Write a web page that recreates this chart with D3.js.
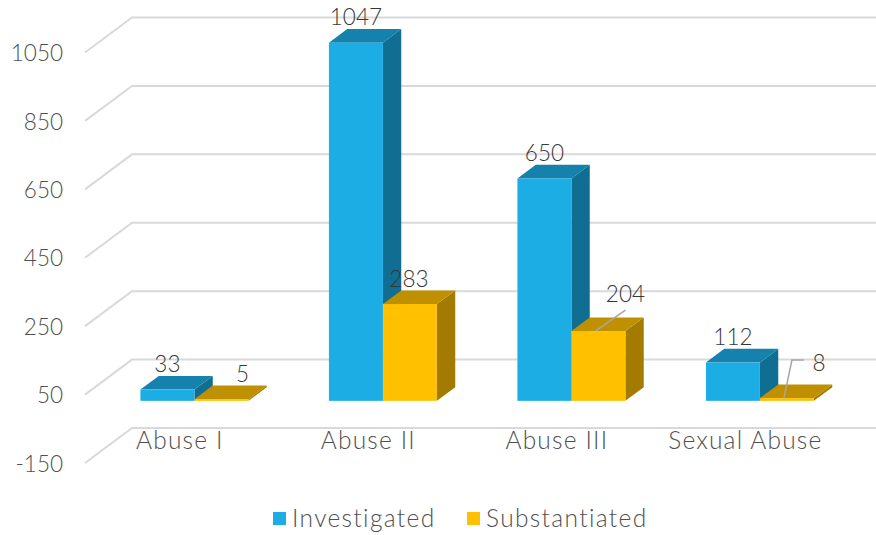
<!DOCTYPE html>
<meta charset="utf-8">
<script src="https://d3js.org/d3.v7.min.js"></script>
<style>
  html, body { margin: 0; background: #fff; }
  svg { display: block; }
  text { font-family: Lato, sans-serif; font-weight: 300; }
  .tick text { fill: #505050; font-size: 22.5px; }
  .xaxis .tick text { font-size: 24.5px; letter-spacing: 1.2px; }
  .label { fill: #383838; font-size: 22.5px; text-anchor: middle; dominant-baseline: central; }
  .legend { fill: #505050; font-size: 24.5px; letter-spacing: 1.35px; dominant-baseline: central; }
  .grid { stroke: #d9d9d9; stroke-width: 2px; fill: none; }
  .leader { stroke: #a6a6a6; stroke-width: 1.5px; fill: none; }
</style>
<body>
<div id="chart"></div>
<script>
  // Data
  const categories = ["Abuse I", "Abuse II", "Abuse III", "Sexual Abuse"];
  const seriesNames = ["Investigated", "Substantiated"];
  const investigated = [33, 1047, 650, 112];
  const substantiated = [5, 283, 204, 8];
  const yTicks = [-150, 50, 250, 450, 650, 850, 1050];

  const width = 876, height = 535;

  // 3d box: wall depth and where the bars sit inside it
  const wallDx = 47, wallDy = -35;
  const barFront = 0.31, barDepth = 0.39;

  const svg = d3.select("#chart").append("svg")
    .attr("width", width).attr("height", height);

  const y = d3.scaleLinear().domain([-150, 1050]).range([463, 52.5]);
  const x0 = d3.scaleBand().domain(categories).range([85.6, 839.6]);
  const x1 = d3.scaleBand().domain(seriesNames)
    .range([0, 108]);

  // gridlines: diagonal up the side wall, then across the back wall
  svg.append("g").selectAll("path")
    .data(yTicks)
    .enter().append("path")
    .attr("class", "grid")
    .attr("d", d => {
      const p = d3.path();
      p.moveTo(85, y(d));
      p.lineTo(85 + wallDx, y(d) + wallDy);
      p.lineTo(width, y(d) + wallDy);
      return p.toString();
    });

  // axes
  const yAxis = d3.axisLeft(y).tickValues(yTicks).tickSize(0).tickPadding(0).tickFormat(String);
  svg.append("g").attr("transform", "translate(63,1)").call(yAxis)
    .call(g => g.select(".domain").remove())
    .selectAll("text").attr("font-family", null).attr("font-size", null);

  const xAxis = d3.axisBottom(x0).tickSize(0).tickPadding(0);
  svg.append("g").attr("class", "xaxis").attr("transform", "translate(0,432)").call(xAxis)
    .call(g => g.select(".domain").remove())
    .selectAll("text").attr("font-family", null).attr("font-size", null);

  // faces of each series
  const faces = {
    Investigated: { front: "#1cade4", top: "#1581ad", side: "#106e92" },
    Substantiated: { front: "#ffc000", top: "#bf9000", side: "#a37b00" }
  };

  const dx = barDepth * wallDx, dy = barDepth * wallDy;
  const floorX = barFront * wallDx, floorY = barFront * wallDy;

  const rows = [];
  categories.forEach((c, i) => {
    rows.push({ cat: c, name: seriesNames[0], value: investigated[i] });
    rows.push({ cat: c, name: seriesNames[1], value: substantiated[i] });
  });

  const left = d => x0(d.cat) + (x0.bandwidth() - x1.range()[1]) / 2 + x1(d.name) + floorX;
  const barTop = d => y(d.value) + floorY;
  const barBase = y(0) + floorY;
  const poly = pts => pts.map(p => p.join(",")).join(" ");

  const bars = svg.append("g").selectAll("g")
    .data(rows)
    .enter().append("g");

  bars.append("polygon") // side
    .attr("fill", d => faces[d.name].side)
    .attr("points", d => {
      const r = left(d) + x1.bandwidth();
      return poly([[r, barBase], [r, barTop(d)], [r + dx, barTop(d) + dy], [r + dx, barBase + dy]]);
    });
  bars.append("polygon") // top
    .attr("fill", d => faces[d.name].top)
    .attr("points", d => {
      const l = left(d), r = l + x1.bandwidth(), t = barTop(d);
      return poly([[l, t], [r, t], [r + dx, t + dy], [l + dx, t + dy]]);
    });
  bars.append("rect") // front
    .attr("fill", d => faces[d.name].front)
    .attr("x", left)
    .attr("y", barTop)
    .attr("width", x1.bandwidth())
    .attr("height", d => barBase - barTop(d));

  // data labels, a few were dragged off the bar in the original
  const nudges = {
    "Abuse I|Substantiated": [21, 0],
    "Abuse II|Substantiated": [-1, 0],
    "Abuse III|Substantiated": [27, -12],
    "Sexual Abuse|Substantiated": [32, -10]
  };
  const nudge = d => nudges[d.cat + "|" + d.name] || [0, 0];
  const labelX = d => left(d) + x1.bandwidth() / 2 + nudge(d)[0];
  const labelY = d => barTop(d) - 26 + nudge(d)[1];

  // leader lines for the two labels that moved furthest
  const leader = (cat, pts) => {
    const d = rows.find(r => r.cat === cat && r.name === seriesNames[1]);
    svg.append("polyline").attr("class", "leader")
      .attr("points", poly(pts.map(p => [labelX(d) + p[0], labelY(d) + p[1]])));
  };
  leader("Abuse III", [[0, 17], [-30, 38]]);
  leader("Sexual Abuse", [[-15, -2], [-27, -2], [-35, 36]]);

  svg.append("g").selectAll("text")
    .data(rows)
    .enter().append("text")
    .attr("class", "label")
    .attr("x", labelX)
    .attr("y", labelY)
    .text(d => d.value);

  // legend
  const legendX = d3.scaleOrdinal().domain(seriesNames).range([273, 467]);
  const legend = svg.append("g").selectAll("g")
    .data(seriesNames)
    .enter().append("g")
    .attr("transform", d => `translate(${legendX(d)},512)`);
  legend.append("rect")
    .attr("width", 13).attr("height", 13)
    .attr("fill", d => faces[d].front);
  legend.append("text")
    .attr("class", "legend")
    .attr("x", 19).attr("y", 5.5)
    .text(d => d);
</script>
</body>
